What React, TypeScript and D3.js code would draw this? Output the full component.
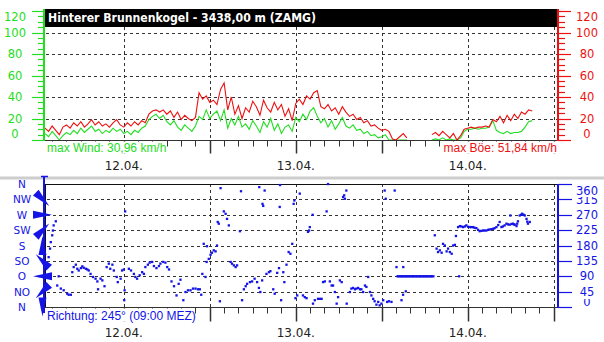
import React from "react";
import * as d3 from "d3";

// hours are counted from 12.04. 00:00
const stationTitle = "Hinterer Brunnenkogel - 3438,00 m (ZAMG)";
const dayLabels = ["12.04.", "13.04.", "14.04."];
const dayHours = [0, 24, 48];
const speedTicks = [0, 20, 40, 60, 80, 100, 120];
const dirTicks = [0, 45, 90, 135, 180, 225, 270, 315, 360];
const compassLabels = ["N", "NO", "O", "SO", "S", "SW", "W", "NW", "N"];

// half-hourly values from 11.04. 13:00 (km/h)
const speedStart = -11;
const gustSpeed = [
  11, 8, 13, 9, 5, 12, 14, 11, 16, 13,
  17, 12, 15, 19, 14, 17, 13, 15, 12, 16,
  19, 14, 12, 16, 13, 17, 14, 18, 16, 24,
  27, 28, 26, 28, 24, 27, 21, 26, 19, 23,
  20, 18, 21, 44, 38, 41, 35, 37, 33, 47,
  53, 28, 40, 24, 32, 20, 30, 26, 36, 31,
  23, 37, 30, 26, 35, 28, 33, 22, 29, 18,
  34, 38, 33, 41, 38, 44, 46, 31, 29, 33,
  27, 30, 24, 31, 26, 22, 24, 19, 21, 16,
  18, 13, 14, 11, 9, 10, 8, 1, 0, 3,
  6, 2, null, null, null, null, null, null, 5, 7,
  4, 8, 5, 2, 6, 0, 4, 10, 11, 12,
  11, 12, 12, 13, 12, 19, 17, 22, 16, 23,
  18, 24, 20, 26, 24, 28, 27,
];
const windSpeed = [
  6, 3, 8, 4, 0, 4, 7, 5, 9, 6,
  11, 7, 10, 13, 8, 10, 6, 9, 7, 11,
  8, 10, 6, 8, 5, 9, 7, 11, 13, 19,
  22, 24, 20, 23, 17, 14, 18, 12, 9, 14,
  11, 8, 13, 22, 19, 28, 20, 24, 27, 18,
  28, 11, 20, 14, 22, 12, 15, 10, 18, 13,
  7, 17, 12, 20, 9, 15, 6, 12, 14, 8,
  21, 17, 24, 19, 27, 30, 22, 16, 20, 12,
  18, 10, 15, 21, 13, 11, 14, 9, 10, 6,
  8, 4, 5, 2, 3, 5, 0, 0, 0, 0,
  0, 0, null, null, null, null, null, null, 0, 1,
  0, 2, 0, 1, 0, 0, 2, 8, 10, 10,
  11, 10, 11, 11, 12, 18, 9, 7, 6, 8,
  6, 7, 7, 8, 12, 17, 18,
];

// wind direction readings (hour, degrees)
const dirHours = [
  -10.8, -10.5, -10.3, -10.2, -10.0, -9.9, -9.8, -9.5, -9.3, -9.1,
  -8.8, -8.4, -7.9, -7.7, -7.4, -7.2, -7.0, -6.7, -6.5, -6.3,
  -6.0, -5.8, -5.6, -5.3, -5.1, -4.9, -4.65, -4.3, -3.95, -3.7,
  -3.6, -3.25, -3.0, -2.7, -2.4, -2.1, -1.9, -1.6, -1.4, -1.0,
  -0.85, -0.45, -0.25, 0, 0.05, 0.1, 0.18, 0.7, 1.0, 1.4,
  1.6, 1.85, 2.2, 2.55, 2.8, 3.0, 3.35, 3.6, 3.95, 4.2,
  4.55, 4.9, 5.1, 5.5, 5.8, 6.05, 6.3, 6.65, 7.0, 7.35,
  7.65, 7.9, 8.3, 8.6, 8.95, 9.3, 9.65, 10.0, 10.35, 10.6,
  10.8, 10.95, 11.15, 11.4, 11.55, 11.6, 11.85, 12.1, 12.3, 12.55,
  12.8, 13.0, 13.1, 13.25, 13.4, 13.5, 13.95, 14.2, 14.4, 14.65,
  14.9, 15.1, 15.35, 15.6, 15.8, 16.2, 16.35, 16.5, 16.75, 17.0,
  17.2, 17.6, 17.9, 18.25, 18.6, 18.85, 18.9, 19.05, 19.3, 19.35,
  19.45, 19.65, 19.9, 20.25, 20.45, 20.85, 21.05, 21.4, 21.65, 21.75,
  21.8, 21.95, 22.25, 22.4, 22.7, 23.0, 23.25, 23.5, 23.7, 23.8,
  23.95, 24.2, 24.55, 25.0, 25.25, 25.5, 25.7, 25.85, 25.95, 26.35,
  26.4, 26.65, 27.1, 27.35, 27.6, 27.8, 28.05, 28.3, 28.5, 28.75,
  29.0, 29.2, 29.45, 29.7, 29.9, 30.15, 30.4, 30.6, 30.75, 30.85,
  31.05, 31.1, 31.55, 31.75, 32.0, 32.25, 32.45, 32.7, 32.95, 33.15,
  33.4, 33.65, 33.85, 34.1, 34.35, 34.55, 34.8, 35.0, 35.25, 35.5,
  35.7, 35.95, 36.2, 36.4, 36.55, 36.75, 37.0, 37.35, 37.8, 38.05,
  38.2, 38.35, 38.5, 38.7, 38.75, 38.85, 38.97, 39.0, 39.0, 39.2,
  39.35, 39.35, 39.5, 39.7, 39.85, 40.0, 40.2, 40.35, 40.5, 40.7,
  40.85, 41.0, 41.2, 41.35, 41.5, 41.7, 41.85, 42.0, 42.2, 42.35,
  42.5, 42.7, 42.85, 43.0, 43.2, 43.4, 43.65, 43.85, 44.1, 44.35,
  44.55, 44.8, 45.05, 45.25, 45.5, 45.75, 45.95, 46.2, 46.35, 46.65,
  46.8, 46.9, 47.1, 47.35, 47.6, 47.8, 48.05, 48.3, 48.5, 48.75,
  48.95, 49.2, 49.45, 49.65, 49.9, 50.15, 50.35, 50.6, 50.85, 51.05,
  51.3, 51.55, 51.75, 52.0, 52.25, 52.45, 52.7, 52.9, 53.15, 53.4,
  53.6, 53.85, 53.95, 54.1, 54.3, 54.45, 54.55, 54.8, 54.9, 55.0,
  55.25, 55.45, 55.6, 55.8, 55.95, 56.2, 56.3, 56.4, 56.65,
];
const dirDegrees = [
  125, 146, 171, 190, 210, 224, 239, 251, 63, 90,
  54, 49, 39, 36, 36, 102, 117, 124, 112, 107,
  114, 119, 115, 112, 110, 107, 97, 88, 83, 75,
  52, 83, 78, 61, 117, 127, 112, 124, 107, 88,
  73, 83, 107, 110, 20, 49, 280, 112, 107, 97,
  88, 83, 93, 102, 97, 117, 124, 130, 132, 120,
  114, 120, 127, 132, 130, 117, 110, 75, 61, 34,
  68, 80, 20, 44, 49, 49, 54, 54, 52, 52,
  36, 97, 185, 88, 132, 178, 141, 153, 159, 166,
  163, 180, 249, 244, 17, 348, 280, 273, 258, 239,
  132, 127, 122, 117, 122, 222, 339, 20, 52, 61,
  68, 73, 75, 83, 73, 56, 351, 44, 78, 302,
  296, 341, 97, 102, 105, 52, 39, 100, 114, 293,
  357, 20, 102, 73, 124, 161, 156, 185, 302, 312,
  26, 34, 332, 34, 29, 26, 220, 224, 234, 270,
  10, 20, 24, 24, 24, 73, 75, 280, 360, 75,
  63, 63, 44, 10, 29, 78, 73, 322, 327, 317,
  341, 10, 44, 54, 56, 52, 54, 56, 52, 52,
  44, 63, 59, 88, 44, 34, 24, 17, 7, 15,
  5, 10, 20, 341, 317, 15, 17, 15, 341, 117,
  90, 90, 90, 90, 20, 90, 36, 90, 117, 90,
  90, 46, 90, 90, 90, 90, 90, 90, 90, 90,
  90, 90, 90, 90, 90, 90, 90, 90, 90, 90,
  90, 90, 90, 90, 90, 210, 171, 161, 166, 159,
  185, 180, 163, 171, 161, 156, 180, 182, 208, 234,
  90, 237, 236, 234, 236, 239, 235, 234, 234, 234,
  232, 231, 226, 222, 223, 224, 224, 224, 226, 227,
  228, 229, 231, 234, 240, 249, 234, 236, 239, 244,
  242, 241, 268, 243, 244, 242, 241, 237, 244, 251,
  268, 270, 273, 270, 268, 258, 250, 244, 249,
];

const GREEN = "#22dd22";
const RED = "#ee1111";
const BLUE = "#1414e6";
const GRID = "#333";
const SANS = "'Liberation Sans', Arial, sans-serif";
const VERD = "'DejaVu Sans', Verdana, sans-serif";

const px = (v: number) => Math.round(v) + 0.5;

export default function App() {
  const x = d3.scaleLinear().domain([-11, 60.6]).range([45, 558]);
  const ySpeed = d3.scaleLinear().domain([0, 120]).range([140, 11]);
  const yDir = d3.scaleLinear().domain([0, 360]).range([307, 184]);

  const speedHours = d3.range(gustSpeed.length).map((i) => speedStart + i * 0.5);
  const speedLine = d3
    .line<number | null>()
    .defined((v) => v !== null)
    .x((_, i) => x(speedHours[i]))
    .y((v) => ySpeed(v as number));

  const majorHours = [0, 12, 24, 36, 48, 60];
  const minorHours = d3.range(-10, 61, 2);
  const speedMinor = d3.range(0, 121, 5);

  const speedLabelY = (v: number) =>
    v === 120 ? ySpeed(v) + 6 : v === 0 ? ySpeed(v) - 6.5 : ySpeed(v);

  // wind arrow wedge on the left axis of the direction panel
  const arrow = (deg: number, cy: number) => {
    const r = (deg * Math.PI) / 180;
    const ux = Math.sin(r);
    const uy = -Math.cos(r);
    const cx = 42.5;
    const L = 9.5;
    const w = 4;
    const bx = cx + ux * L;
    const by = cy + uy * L;
    const tx = cx - ux * L;
    const ty = cy - uy * L;
    const qx = -uy;
    const qy = ux;
    return `${bx + qx * w},${by + qy * w} ${bx - qx * w},${by - qy * w} ${tx},${ty}`;
  };

  const ticksBelow = (y0: number, longLen: number, shortLen: number) => (
    <g stroke="#333" strokeWidth={1}>
      {minorHours.map((h) => (
        <line key={"m" + h} x1={px(x(h))} x2={px(x(h))} y1={y0} y2={y0 + shortLen} />
      ))}
      {majorHours.map((h) => (
        <line key={"M" + h} x1={px(x(h))} x2={px(x(h))} y1={y0} y2={y0 + longLen} strokeWidth={1.5} />
      ))}
    </g>
  );

  return (
    <svg
      width={604}
      height={342}
      style={{ position: "absolute", left: 0, top: 0, background: "#fff" }}
    >
      <defs>
        <clipPath id="clip315">
          <rect x={570} y={197} width={34} height={10} />
        </clipPath>
        <clipPath id="clip0">
          <rect x={570} y={299} width={34} height={12} />
        </clipPath>
      </defs>

      {/* ---------- speed panel ---------- */}
      <g stroke={GRID} strokeWidth={1} strokeDasharray="3,3">
        {speedTicks
          .filter((v) => v > 0 && v < 120)
          .map((v) => (
            <line key={v} x1={46} x2={557} y1={px(ySpeed(v))} y2={px(ySpeed(v))} />
          ))}
        {majorHours.map((h) => (
          <line key={h} x1={px(x(h))} x2={px(x(h))} y1={27} y2={140} />
        ))}
      </g>

      <path d={speedLine(windSpeed) || ""} fill="none" stroke={GREEN} strokeWidth={1.1} />
      <path d={speedLine(gustSpeed) || ""} fill="none" stroke={RED} strokeWidth={1.1} />

      <rect x={45} y={9} width={512} height={18} fill="#000" />
      <text
        x={48}
        y={21.8}
        fill="#fff"
        fontFamily={VERD}
        fontWeight="bold"
        fontSize={11.5}
        textLength={268}
        lengthAdjust="spacingAndGlyphs"
      >
        {stationTitle}
      </text>

      <line x1={44} x2={558} y1={140.5} y2={140.5} stroke="#333" strokeWidth={1.2} />
      {ticksBelow(140.5, 13, 6)}

      {/* left (wind) axis */}
      <line x1={44} x2={44} y1={9} y2={141} stroke={GREEN} strokeWidth={2} />
      {speedMinor.map((v) => (
        <line
          key={v}
          x1={v % 20 === 0 ? 32 : 38}
          x2={44}
          y1={px(ySpeed(v))}
          y2={px(ySpeed(v))}
          stroke={GREEN}
          strokeWidth={1.2}
        />
      ))}
      {speedTicks.map((v) => (
        <text
          key={v}
          x={15}
          y={speedLabelY(v)}
          textAnchor="middle"
          dominantBaseline="central"
          fill={GREEN}
          fontFamily={VERD}
          fontSize={11.5}
        >
          {v}
        </text>
      ))}

      {/* right (gust) axis */}
      <line x1={558} x2={558} y1={9} y2={141} stroke={RED} strokeWidth={2} />
      {speedMinor.map((v) => (
        <line
          key={v}
          x1={558}
          x2={v % 20 === 0 ? 571 : 565}
          y1={px(ySpeed(v))}
          y2={px(ySpeed(v))}
          stroke={RED}
          strokeWidth={1.2}
        />
      ))}
      {speedTicks.map((v) => (
        <text
          key={v}
          x={587}
          y={speedLabelY(v)}
          textAnchor="middle"
          dominantBaseline="central"
          fill={RED}
          fontFamily={VERD}
          fontSize={11.5}
        >
          {v}
        </text>
      ))}

      <rect x={45} y={141.5} width={121} height={12} fill="#fff" />
      <text x={47} y={152} fill={GREEN} fontFamily={SANS} fontSize={12}>
        max Wind: 30,96 km/h
      </text>
      <rect x={442} y={141.5} width={115} height={12} fill="#fff" />
      <text x={557} y={152} textAnchor="end" fill={RED} fontFamily={SANS} fontSize={12}>
        max Böe: 51,84 km/h
      </text>

      {dayLabels.map((t, i) => (
        <text
          key={t}
          x={x(dayHours[i])}
          y={169.5}
          textAnchor="middle"
          fill="#222"
          fontFamily={VERD}
          fontSize={12}
        >
          {t}
        </text>
      ))}

      {/* separator */}
      <rect x={0} y={176.5} width={604} height={3} fill="#cdcdcd" />

      {/* ---------- direction panel ---------- */}
      <g stroke={GRID} strokeWidth={1} strokeDasharray="3,3">
        {dirTicks
          .filter((v) => v > 0 && v < 360)
          .map((v) => (
            <line key={v} x1={47} x2={557} y1={px(yDir(v))} y2={px(yDir(v))} />
          ))}
        {majorHours.map((h) => (
          <line key={h} x1={px(x(h))} x2={px(x(h))} y1={184} y2={307} />
        ))}
      </g>
      <line x1={45} x2={558} y1={184.5} y2={184.5} stroke="#111" strokeWidth={1.2} />
      <line x1={45.5} x2={45.5} y1={184} y2={307} stroke="#111" strokeWidth={1} />

      {dirHours.map((h, i) => (
        <rect
          key={i}
          x={x(h) - 1.1}
          y={yDir(dirDegrees[i]) - 1.1}
          width={2.3}
          height={2.3}
          fill={BLUE}
        />
      ))}

      <line x1={44} x2={558} y1={307.5} y2={307.5} stroke="#333" strokeWidth={1.2} />
      {ticksBelow(307.5, 14, 6)}

      {/* left compass axis */}
      <line x1={44} x2={44} y1={177} y2={313} stroke={BLUE} strokeWidth={2} />
      <line x1={41} x2={48} y1={176.5} y2={176.5} stroke={BLUE} strokeWidth={1.5} />
      {dirTicks.slice(0, 8).map((d) => (
        <polygon key={d} points={arrow(d, yDir(d))} fill={BLUE} />
      ))}
      {compassLabels.map((t, i) => (
        <text
          key={i}
          x={22}
          y={yDir(dirTicks[i])}
          textAnchor="middle"
          dominantBaseline="central"
          fill={BLUE}
          fontFamily={VERD}
          fontSize={10.5}
        >
          {t}
        </text>
      ))}

      {/* right degree axis */}
      <line x1={558} x2={558} y1={184} y2={308} stroke={BLUE} strokeWidth={2} />
      {dirTicks.map((d) => (
        <line key={d} x1={558} x2={572} y1={px(yDir(d))} y2={px(yDir(d))} stroke={BLUE} strokeWidth={1.2} />
      ))}
      {dirTicks.map((d) => {
        const off = d === 360 ? 7 : d === 315 ? 1 : d === 0 ? -5 : 0;
        const clip = d === 315 ? "url(#clip315)" : d === 0 ? "url(#clip0)" : undefined;
        return (
          <text
            key={d}
            x={587}
            y={yDir(d) + off}
            textAnchor="middle"
            dominantBaseline="central"
            fill={BLUE}
            fontFamily={VERD}
            fontSize={11.5}
            clipPath={clip}
          >
            {d}
          </text>
        );
      })}

      <rect x={46} y={308.5} width={148} height={13} fill="#fff" />
      <text x={47} y={319.5} fill={BLUE} fontFamily={SANS} fontSize={12}>
        Richtung: 245° (09:00 MEZ)
      </text>

      {dayLabels.map((t, i) => (
        <text
          key={t}
          x={x(dayHours[i])}
          y={337}
          textAnchor="middle"
          fill="#222"
          fontFamily={VERD}
          fontSize={12}
        >
          {t}
        </text>
      ))}
    </svg>
  );
}
